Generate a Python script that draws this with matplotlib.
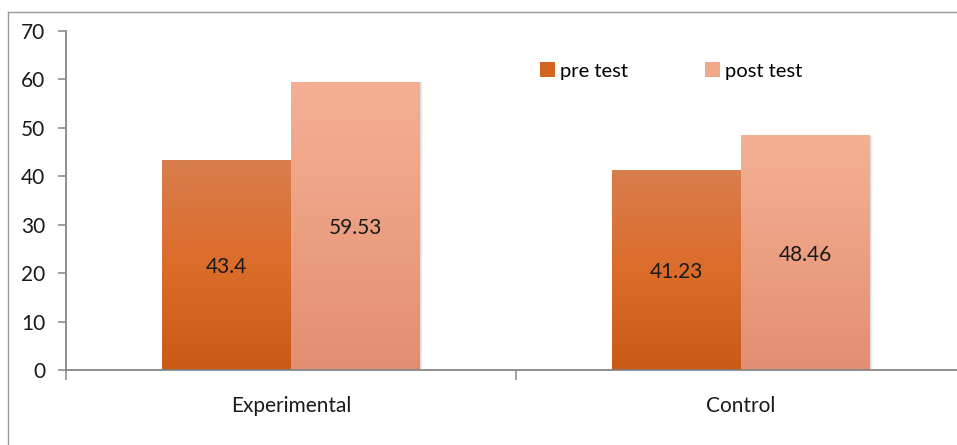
import numpy as np
import matplotlib
matplotlib.use("Agg")
import matplotlib.pyplot as plt
from matplotlib.colors import LinearSegmentedColormap
from matplotlib.patches import Rectangle, Patch
from matplotlib.lines import Line2D

# Data
groups = ["Experimental", "Control"]
series = ["pre test", "post test"]
pre_test = [43.4, 41.23]
post_test = [59.53, 48.46]
y_ticks = [0, 10, 20, 30, 40, 50, 60, 70]

plt.rcParams["font.family"] = ["Lato", "DejaVu Sans"]

W, H = 957, 445
fig = plt.figure(figsize=(W / 100, H / 100), dpi=100)
fig.patch.set_facecolor("white")

# outer chart-area frame (left and top edges visible)
frame_col = "#9a9a9a"
fig.add_artist(Line2D([8 / W, 8 / W], [0, 1 - 12 / H], transform=fig.transFigure,
                      color=frame_col, lw=1.0))
fig.add_artist(Line2D([8 / W, 1], [1 - 12 / H, 1 - 12 / H], transform=fig.transFigure,
                      color=frame_col, lw=1.0))

x0, x1 = 66, 966
yb, yt = 370, 31
ax = fig.add_axes([x0 / W, (H - yb) / H, (x1 - x0) / W, (yb - yt) / H])
ax.set_xlim(-0.5, 1.5)
ax.set_ylim(0, 70)
ax.set_facecolor("none")

for s in ["top", "right"]:
    ax.spines[s].set_visible(False)
axis_col = "#868686"
for s in ["left", "bottom"]:
    ax.spines[s].set_color(axis_col)
    ax.spines[s].set_linewidth(1.3)

ax.set_yticks(y_ticks)
ax.set_yticklabels([str(v) for v in y_ticks])
ax.tick_params(axis="y", length=6, width=1.1, color=axis_col, pad=9,
               labelsize=15, labelcolor="#1a1a1a")

# category boundary ticks, labels at category centres
ax.set_xticks([-0.5, 0.5, 1.5])
ax.set_xticklabels(["", "", ""])
ax.tick_params(axis="x", which="major", length=7, width=1.1, color=axis_col)
ax.set_xticks([0, 1], minor=True)
ax.set_xticklabels(groups, minor=True)
ax.tick_params(axis="x", which="minor", length=0, pad=19, labelsize=15,
               labelcolor="#1a1a1a")

pre_cmap = LinearSegmentedColormap.from_list(
    "pre", [(0.0, (200 / 255, 90 / 255, 22 / 255)),
            (0.5, (220 / 255, 108 / 255, 42 / 255)),
            (1.0, (216 / 255, 126 / 255, 78 / 255))])
post_cmap = LinearSegmentedColormap.from_list(
    "post", [(0.0, (226 / 255, 142 / 255, 114 / 255)),
             (0.5, (236 / 255, 160 / 255, 130 / 255)),
             (1.0, (245 / 255, 176 / 255, 148 / 255))])

bw = 129 / 450
grad = np.linspace(0, 1, 256).reshape(-1, 1)
xs = np.arange(len(groups))
px_x = 1 / 450
px_y = 70 / (yb - yt)


def gradient_bars(xpos, vals, cmap):
    bars = ax.bar(xpos, vals, width=bw, color="none", edgecolor="none", zorder=3)
    for b in bars:
        bx, by = b.get_x(), b.get_y()
        w, h = b.get_width(), b.get_height()
        # soft drop shadow
        for k, a in [(1, 0.10), (2, 0.07), (3, 0.04)]:
            ax.add_patch(Rectangle((bx + k * px_x, by), w, h - k * px_y * 0.3,
                                   facecolor="#555555", edgecolor="none",
                                   alpha=a, zorder=1.5))
        im = ax.imshow(grad, cmap=cmap, origin="lower", aspect="auto",
                       extent=[bx, bx + w, by, by + h], zorder=2.5,
                       interpolation="bilinear")
        im.set_clip_path(b)
    return bars


b1 = gradient_bars(xs - bw / 2, pre_test, pre_cmap)
b2 = gradient_bars(xs + bw / 2, post_test, post_cmap)
ax.set_xlim(-0.5, 1.5)
ax.set_ylim(0, 70)

for bars, vals in [(b1, pre_test), (b2, post_test)]:
    for b, v in zip(bars, vals):
        ax.text(b.get_x() + b.get_width() / 2, v / 2 - 0.4, f"{v:g}",
                ha="center", va="center", fontsize=15, color="#1a1a1a", zorder=4)

handles = [Patch(facecolor="#d2651f", edgecolor="none"),
           Patch(facecolor="#f0a88b", edgecolor="none")]
fig.legend(handles, series, loc="center left",
           bbox_to_anchor=(526 / W, 1 - 71 / H), ncol=2, frameon=False,
           fontsize=14.5, handlelength=0.75, handleheight=0.75,
           handletextpad=0.25, columnspacing=3.8, borderpad=0.2)

fig.savefig("out.png", dpi=100, facecolor="white")
